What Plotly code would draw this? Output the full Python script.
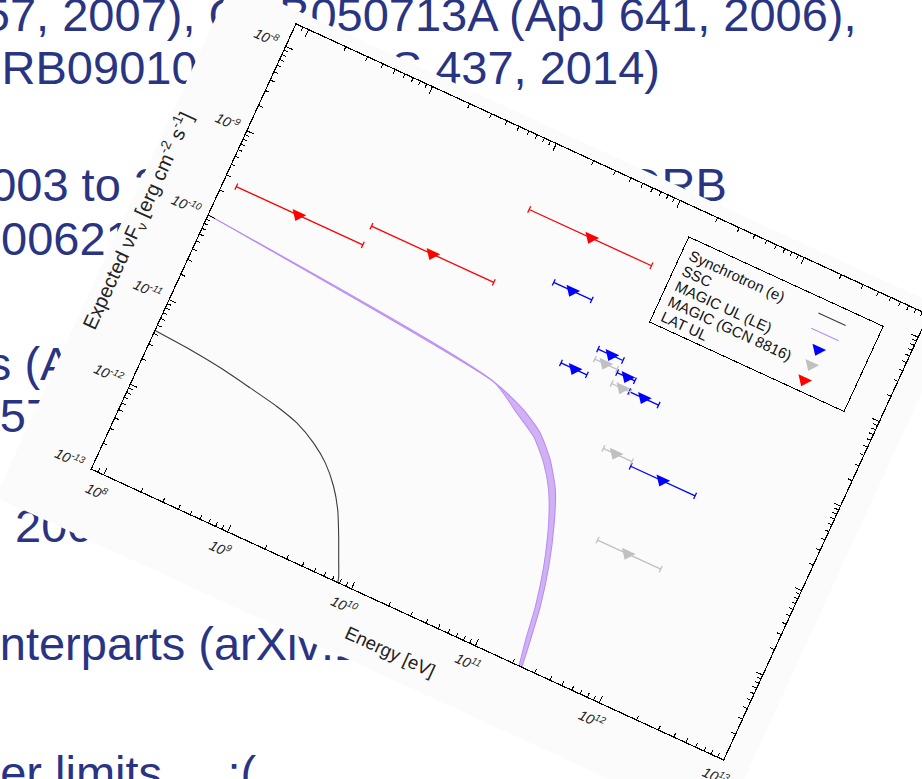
import plotly.graph_objects as go

# ---------------- data ----------------
sync_energy = [8.0e7, 1.56e8, 2.99e8, 5.12e8, 8.79e8, 1.34e9, 2.0e9, 2.75e9,
               3.69e9, 4.62e9, 5.68e9, 6.68e9, 7.6e9, 7.95e9]
sync_flux = [4.32e-12, 4.04e-12, 3.63e-12, 3.18e-12, 2.76e-12, 2.34e-12, 1.77e-12,
             1.28e-12, 8.2e-13, 5.1e-13, 2.8e-13, 1.67e-13, 1.1e-13, 8.0e-14]

ssc_hi_energy = [8.0e7, 2.05e10, 3.96e10, 6.04e10, 8.49e10, 1.135e11, 1.41e11,
                 1.76e11, 2.05e11, 2.23e11, 2.37e11, 2.45e11]
ssc_hi_flux = [1.01e-10, 4.54e-11, 3.29e-11, 2.31e-11, 1.40e-11, 7.55e-12, 3.53e-12,
               1.26e-12, 4.69e-13, 2.0e-13, 1.0e-13, 6.3e-14]
ssc_lo_energy = [8.0e7, 2.05e10, 3.66e10, 5.58e10, 7.85e10, 1.023e11, 1.294e11,
                 1.63e11, 1.90e11, 2.07e11, 2.25e11, 2.32e11]
ssc_lo_flux = [1.01e-10, 4.54e-11, 2.84e-11, 2.0e-11, 1.22e-11, 7.03e-12, 3.33e-12,
               1.19e-12, 4.47e-13, 1.9e-13, 9.8e-14, 6.3e-14]

magic_le_e = [3.59e10, 6.47e10, 1.03e11, 1.54e11, 2.30e11, 5.46e11]
magic_le_lo = [2.56e10, 5.05e10, 8.09e10, 1.28e11, 1.76e11, 3.05e11]
magic_le_hi = [5.19e10, 8.18e10, 1.285e11, 1.78e11, 3.04e11, 1.01e12]
magic_le_f = [7.91e-10, 1.39e-10, 2.79e-10, 2.0e-10, 1.48e-10, 2.80e-11]

magic_gcn_e = [1.0e11, 1.54e11, 2.21e11, 5.38e11]
magic_gcn_lo = [8.26e10, 1.27e11, 1.77e11, 3.09e11]
magic_gcn_hi = [1.25e11, 1.80e11, 3.01e11, 1.0e12]
magic_gcn_f = [2.15e-10, 1.48e-10, 3.15e-11, 3.77e-12]

lat_e = [3.15e8, 3.24e9, 3.31e10]
lat_lo = [1.0e8, 1.05e9, 1.05e10]
lat_hi = [1.05e9, 1.02e10, 1.02e11]
lat_f = [2.55e-10, 4.25e-10, 3.16e-9]

x_tickvals = [1e8, 1e9, 1e10, 1e11, 1e12, 1e13]
x_ticktext = ["10<sup>8</sup>", "10<sup>9</sup>", "10<sup>10</sup>",
              "10<sup>11</sup>", "10<sup>12</sup>", "10<sup>13</sup>"]
y_tickvals = [1e-13, 1e-12, 1e-11, 1e-10, 1e-9, 1e-8]
y_ticktext = ["10<sup>-13</sup>", "10<sup>-12</sup>", "10<sup>-11</sup>",
              "10<sup>-10</sup>", "10<sup>-9</sup>", "10<sup>-8</sup>"]

legend_names = ["Synchrotron (e)", "SSC", "MAGIC UL (LE)", "MAGIC (GCN 8816)", "LAT UL"]

# slide text behind the chart (left-clipped by the page)
slide_lines = [
    "(ApJ 657, 2007), GRB050713A (ApJ 641, 2006),",
    "GRB090102 (MNRAS 437, 2014)",
    "2003 to 2013 MAGIC observed GRB",
    "GRB100621A, GRB080430",
    "GRBs (ApJ 2013)",
    "(ApJ 757, 2012)",
    "2009\u20132013",
    "counterparts (arXiv:1404.4013)",
    "Upper limits ... :(",
]
# layout for the slide text: left x (px) and baseline y (px)
slide_left = [-152, -35, -36, -127, -114, -136, 15, -76, -86]
slide_base = [37, 90, 207, 261, 386, 438, 548, 666, 795]

# ---------------- figure ----------------
L, T, W, H = 110, 150, 695, 489
FONT = "Liberation Sans, Arial, sans-serif"
SLIDE_SIZE = 47
PAD = "\u00a0" * 8  # widens the key box like the gnuplot key

def lo_err(c, lo):
    return [a - b for a, b in zip(c, lo)]

def hi_err(c, hi):
    return [b - a for a, b in zip(c, hi)]

fig = go.Figure()
fig.add_trace(go.Scatter(x=sync_energy, y=sync_flux, mode="lines", name=legend_names[0],
                         line=dict(color="#3a3a3a", width=1.1, shape="spline", smoothing=0.6)))
fig.add_trace(go.Scatter(x=ssc_hi_energy, y=ssc_hi_flux, mode="lines", name=legend_names[1],
                         line=dict(color="rgb(185,140,245)", width=1.1, shape="spline", smoothing=0.6)))
fig.add_trace(go.Scatter(x=ssc_lo_energy, y=ssc_lo_flux, mode="lines", showlegend=False,
                         fill="tonexty", fillcolor="rgba(200,165,242,0.85)",
                         line=dict(color="rgb(185,140,245)", width=1.0, shape="spline", smoothing=0.6)))

def ul_trace(e, lo, hi, f, color, name):
    return go.Scatter(
        x=e, y=f, mode="markers", name=name,
        marker=dict(symbol="triangle-down", size=13, color=color, line=dict(width=0)),
        error_x=dict(type="data", symmetric=False, array=hi_err(e, hi), arrayminus=lo_err(e, lo),
                     color=color, thickness=1.3, width=3.5),
    )

fig.add_trace(ul_trace(magic_le_e, magic_le_lo, magic_le_hi, magic_le_f, "rgb(0,0,255)", legend_names[2]))
fig.add_trace(ul_trace(magic_gcn_e, magic_gcn_lo, magic_gcn_hi, magic_gcn_f, "rgb(192,192,192)",
                       legend_names[3] + PAD))
fig.add_trace(ul_trace(lat_e, lat_lo, lat_hi, lat_f, "rgb(255,0,0)", legend_names[4]))

tickfont = dict(family=FONT, size=14, color="#222", style="italic")
axis_common = dict(
    type="log", showline=True, linecolor="black", linewidth=1.2, mirror="allticks",
    ticks="inside", ticklen=7, tickwidth=1, tickcolor="black", showgrid=False, zeroline=False,
    tickmode="array", tickfont=tickfont, ticklabelstandoff=6, automargin=False,
    minor=dict(ticks="inside", ticklen=4, tickwidth=1, tickcolor="black", dtick="D1", showgrid=False),
)
fig.update_xaxes(range=[7.903, 13], tickvals=x_tickvals, ticktext=x_ticktext, **axis_common)
fig.update_yaxes(range=[-13, -7.74], tickvals=y_tickvals, ticktext=y_ticktext, **axis_common)

shapes = []
for txt, xl, yb in zip(slide_lines, slide_left, slide_base):
    xp = (xl - L) / W
    yp = 1 - (yb - T) / H
    shapes.append(dict(
        type="line", xref="paper", yref="paper", x0=xp, x1=xp + 0.001, y0=yp, y1=yp,
        layer="below", line=dict(color="rgba(0,0,0,0)", width=0),
        label=dict(text=txt, font=dict(family=FONT, size=SLIDE_SIZE, color="#293483"),
                   textposition="start", xanchor="left", yanchor="bottom", padding=0, textangle=0),
    ))
# light backdrop of the pasted chart image (drawn over the slide text, rotated with the chart)
BACKDROP_INDEX = len(shapes)
shapes.append(dict(type="rect", xref="paper", yref="paper", x0=-76 / W, x1=1 + 27 / W,
                   y0=-66 / H, y1=1 + 13 / H, layer="below",
                   fillcolor="rgb(251,251,251)", line=dict(width=0)))

annotations = [
    dict(text="Energy [eV]", xref="paper", yref="paper", x=0.5, y=-41 / H,
         xanchor="center", yanchor="middle", showarrow=False,
         font=dict(family=FONT, size=18.5, color="#222")),
    dict(text="Expected \u03bdF<sub>\u03bd</sub> [erg cm<sup>-2</sup> s<sup>-1</sup>]",
         xref="paper", yref="paper", x=-62 / W, y=0.5, textangle=-90,
         xanchor="center", yanchor="middle", showarrow=False,
         font=dict(family=FONT, size=20, color="#222")),
]

fig.update_layout(
    template="none", width=922, height=779,
    margin=dict(l=L, t=T, r=922 - L - W, b=779 - T - H, pad=0, autoexpand=False),
    paper_bgcolor="white", plot_bgcolor="white",
    shapes=shapes, annotations=annotations, hovermode=False,
    legend=dict(x=0.64, y=0.942, xanchor="left", yanchor="top", bgcolor="rgba(0,0,0,0)",
                bordercolor="black", borderwidth=1, tracegroupgap=0, traceorder="normal",
                font=dict(family=FONT, size=15, color="#111")),
)

post = """
document.body.style.margin = '0';
var gd = document.getElementById('{plot_id}');
var tr = 'translate(296.3,24.6) rotate(24.7) translate(-110,-150)';
['g.cartesianlayer', 'g.infolayer'].forEach(function (sel) {
  gd.querySelectorAll(sel).forEach(function (el) { el.setAttribute('transform', tr); });
});
var bd = gd.querySelector('.layer-below .shapelayer [data-index="BDIDX"]');
if (bd) { bd.setAttribute('transform', tr); }
// gnuplot-style key: text on the left, samples on the right, tight rows
var bg = gd.querySelector('g.legend rect.bg');
var lw = bg ? parseFloat(bg.getAttribute('width')) : 220;
var rowH = 16.8, firstY = 15.5;
gd.querySelectorAll('g.legend g.traces').forEach(function (t, i) {
  var tx = t.querySelector('text.legendtext');
  if (tx) { tx.setAttribute('x', '8'); }
  var ly = t.querySelector('g.layers');
  if (ly) { ly.setAttribute('transform', 'translate(' + (lw - 70) + ',0)'); }
  var m = /translate\\(([-\\d.e]+)/.exec(t.getAttribute('transform') || '');
  var x0 = m ? parseFloat(m[1]) : 1;
  t.setAttribute('transform', 'translate(' + x0 + ',' + (firstY + i * rowH) + ')');
});
if (bg) { bg.setAttribute('height', String(firstY + 4 * rowH + 11)); }
""".replace("BDIDX", str(BACKDROP_INDEX))
fig.write_html("out.html", post_script=post,
               config=dict(displayModeBar=False, responsive=False, staticPlot=True))
